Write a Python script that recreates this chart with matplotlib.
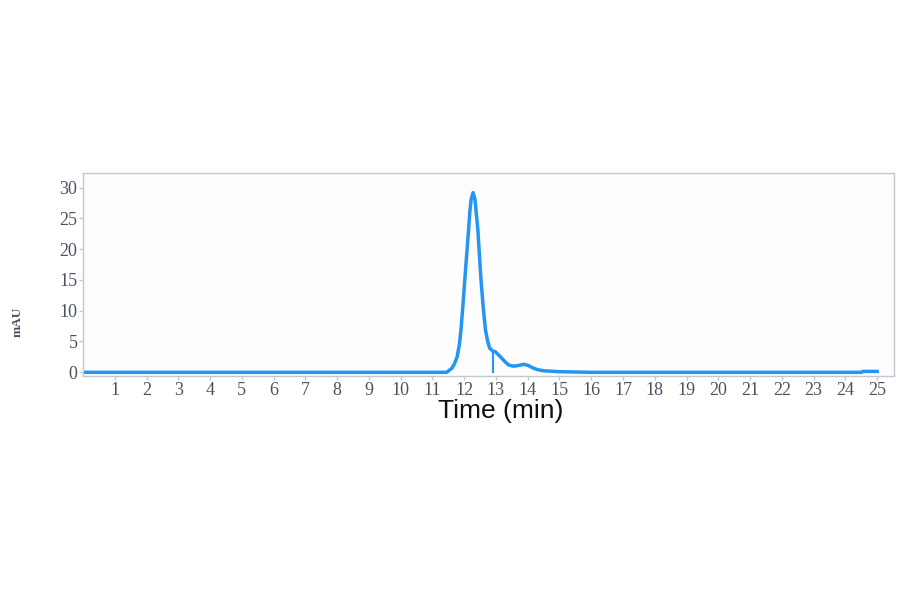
import numpy as np
import matplotlib.pyplot as plt

# chromatogram points (time in min, signal in mAU)
time_min = [0.0, 10.8, 11.45, 11.62, 11.70, 11.78, 11.85, 11.90, 11.96, 12.02,
            12.08, 12.14, 12.18, 12.22, 12.28, 12.34, 12.38, 12.43, 12.48,
            12.53, 12.60, 12.67, 12.74, 12.80, 12.90, 12.98, 13.08, 13.19,
            13.30, 13.40, 13.55, 13.70, 13.87, 14.00, 14.15, 14.30, 14.50,
            15.00, 16.00, 24.50, 24.55, 25.00]
signal_mau = [-0.05, -0.05, -0.05, 0.65, 1.4, 2.5, 4.5, 6.9, 10.8, 15.0,
              19.2, 23.2, 26.2, 28.1, 29.2, 28.1, 25.9, 23.2, 19.0,
              15.0, 10.5, 6.85, 5.0, 3.9, 3.4, 3.3, 2.8, 2.2,
              1.6, 1.15, 0.95, 1.05, 1.25, 1.1, 0.7, 0.4, 0.2,
              0.05, -0.05, -0.05, 0.1, 0.1]

drop_time = 12.9
drop_top = 3.4
baseline = -0.05

x_ticks = list(range(1, 26))
y_ticks = [0, 5, 10, 15, 20, 25, 30]

line_color = "#2196f3"
text_color = "#4a5260"
frame_color = "#c3c8d0"

fig = plt.figure(figsize=(9, 5.94), dpi=100)

# faint grey panel behind the chart
bg = fig.add_axes([0.009, 0.293, 0.986, 0.42], zorder=-1)
bg.set_facecolor("#f9f9f9")
bg.axis("off")
bg.patch.set_visible(True)

ax = fig.add_axes([0.0922, 0.367, 0.9011, 0.3418])
ax.set_facecolor("#fdfdfd")

ax.plot(time_min, signal_mau, color=line_color, lw=2.5)
ax.plot([drop_time, drop_time], [baseline, drop_top], color=line_color, lw=1.5)

ax.set_xlim(0, 25.53)
ax.set_ylim(-0.65, 32.4)
ax.set_xticks(x_ticks)
ax.set_yticks(y_ticks)

for s in ax.spines.values():
    s.set_color(frame_color)
    s.set_linewidth(1.0)

ax.tick_params(axis="both", colors=frame_color, labelcolor=text_color,
               labelsize=13, length=3, width=1, pad=1)
for lab in ax.get_xticklabels() + ax.get_yticklabels():
    lab.set_family("Liberation Serif")

ax.set_xlabel("Time (min)", fontsize=19, family="Liberation Sans",
              color="#111111")
ax.xaxis.set_label_coords(0.515, -0.113)
fig.text(0.020, 0.458, "mAU", rotation=90, fontsize=9.5, fontweight="bold",
         family="Liberation Serif", color=text_color, ha="center", va="center")

fig.savefig("out.png", dpi=100)
